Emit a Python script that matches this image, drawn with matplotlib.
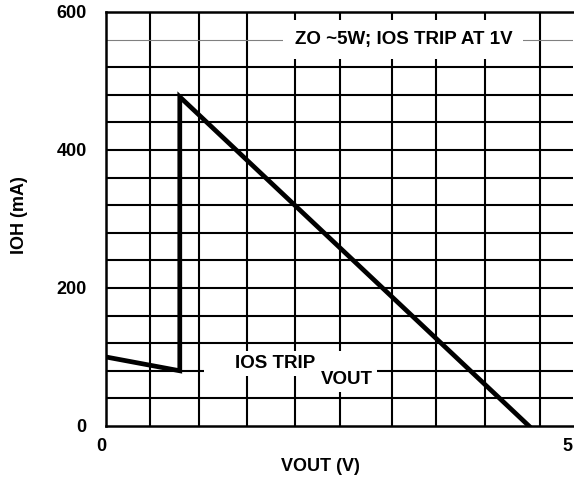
import matplotlib.pyplot as plt
from matplotlib.patches import Rectangle

# curve (V, mA)
vout = [0.0, 0.79, 0.79, 4.53]
ioh = [100, 80, 477, 0]

# grid lines as they sit in the reference
x_grid = [0.47, 1.0, 1.51, 2.02, 2.51, 3.06, 3.53, 4.06, 4.65]
y_grid = list(range(40, 600, 40))
y_ticks = [0, 200, 400, 600]
x_ticks = [0, 5]

plt.rcParams['font.family'] = ['Liberation Sans', 'DejaVu Sans']
plt.rcParams['font.weight'] = 'bold'

fig = plt.figure(figsize=(5.74, 4.78), dpi=100)
ax = fig.add_axes([0.1847, 0.1088, 0.8133, 0.8662])
ax.set_xlim(0, 5)
ax.set_ylim(0, 600)

# grid
for gx in x_grid:
    ax.axvline(gx, color='black', lw=1.5, zorder=1)
for gy in y_grid:
    if gy == 560:
        ax.axhline(gy, color='#808080', lw=0.8, zorder=1)
    else:
        ax.axhline(gy, color='black', lw=1.5, zorder=1)

for side in ['left', 'bottom', 'top']:
    ax.spines[side].set_linewidth(1.8)
ax.spines['right'].set_visible(False)

# curve
ax.plot(vout, ioh, color='black', lw=3.4, solid_joinstyle='miter', zorder=4)

# annotations with white boxes that mask the grid
ax.text(3.185, 560, 'ZO ~5W; IOS TRIP AT 1V', fontsize=13.5, fontweight='bold',
        ha='center', va='center', zorder=3,
        bbox=dict(boxstyle='square,pad=0.6', fc='white', ec='none'))
ax.add_patch(Rectangle((1.05, 73), 1.48, 36, fc='white', ec='none', zorder=2))
ax.text(1.81, 90, 'IOS TRIP', fontsize=13.5, fontweight='bold',
        ha='center', va='center', zorder=3)
ax.text(2.58, 67, 'VOUT', fontsize=13.5, fontweight='bold',
        ha='center', va='center', zorder=3,
        bbox=dict(boxstyle='square,pad=0.2', fc='white', ec='none'))

# ticks
ax.set_yticks(y_ticks)
ax.set_yticklabels([str(v) for v in y_ticks], fontsize=13, fontweight='bold')
ax.set_xticks(x_ticks)
ax.set_xticklabels([str(v) for v in x_ticks], fontsize=13, fontweight='bold')
ax.tick_params(axis='y', length=0, pad=14)
ax.tick_params(axis='x', length=0, pad=9)
for lab in ax.get_xticklabels():
    lab.set_ha('right')

fig.text(0.5575, 0.0251, 'VOUT (V)', fontsize=13, fontweight='bold',
         ha='center', va='center')
fig.text(0.0348, 0.550, 'IOH (mA)', fontsize=13, fontweight='bold',
         ha='center', va='center', rotation=90)

fig.savefig('out.png', dpi=100)
